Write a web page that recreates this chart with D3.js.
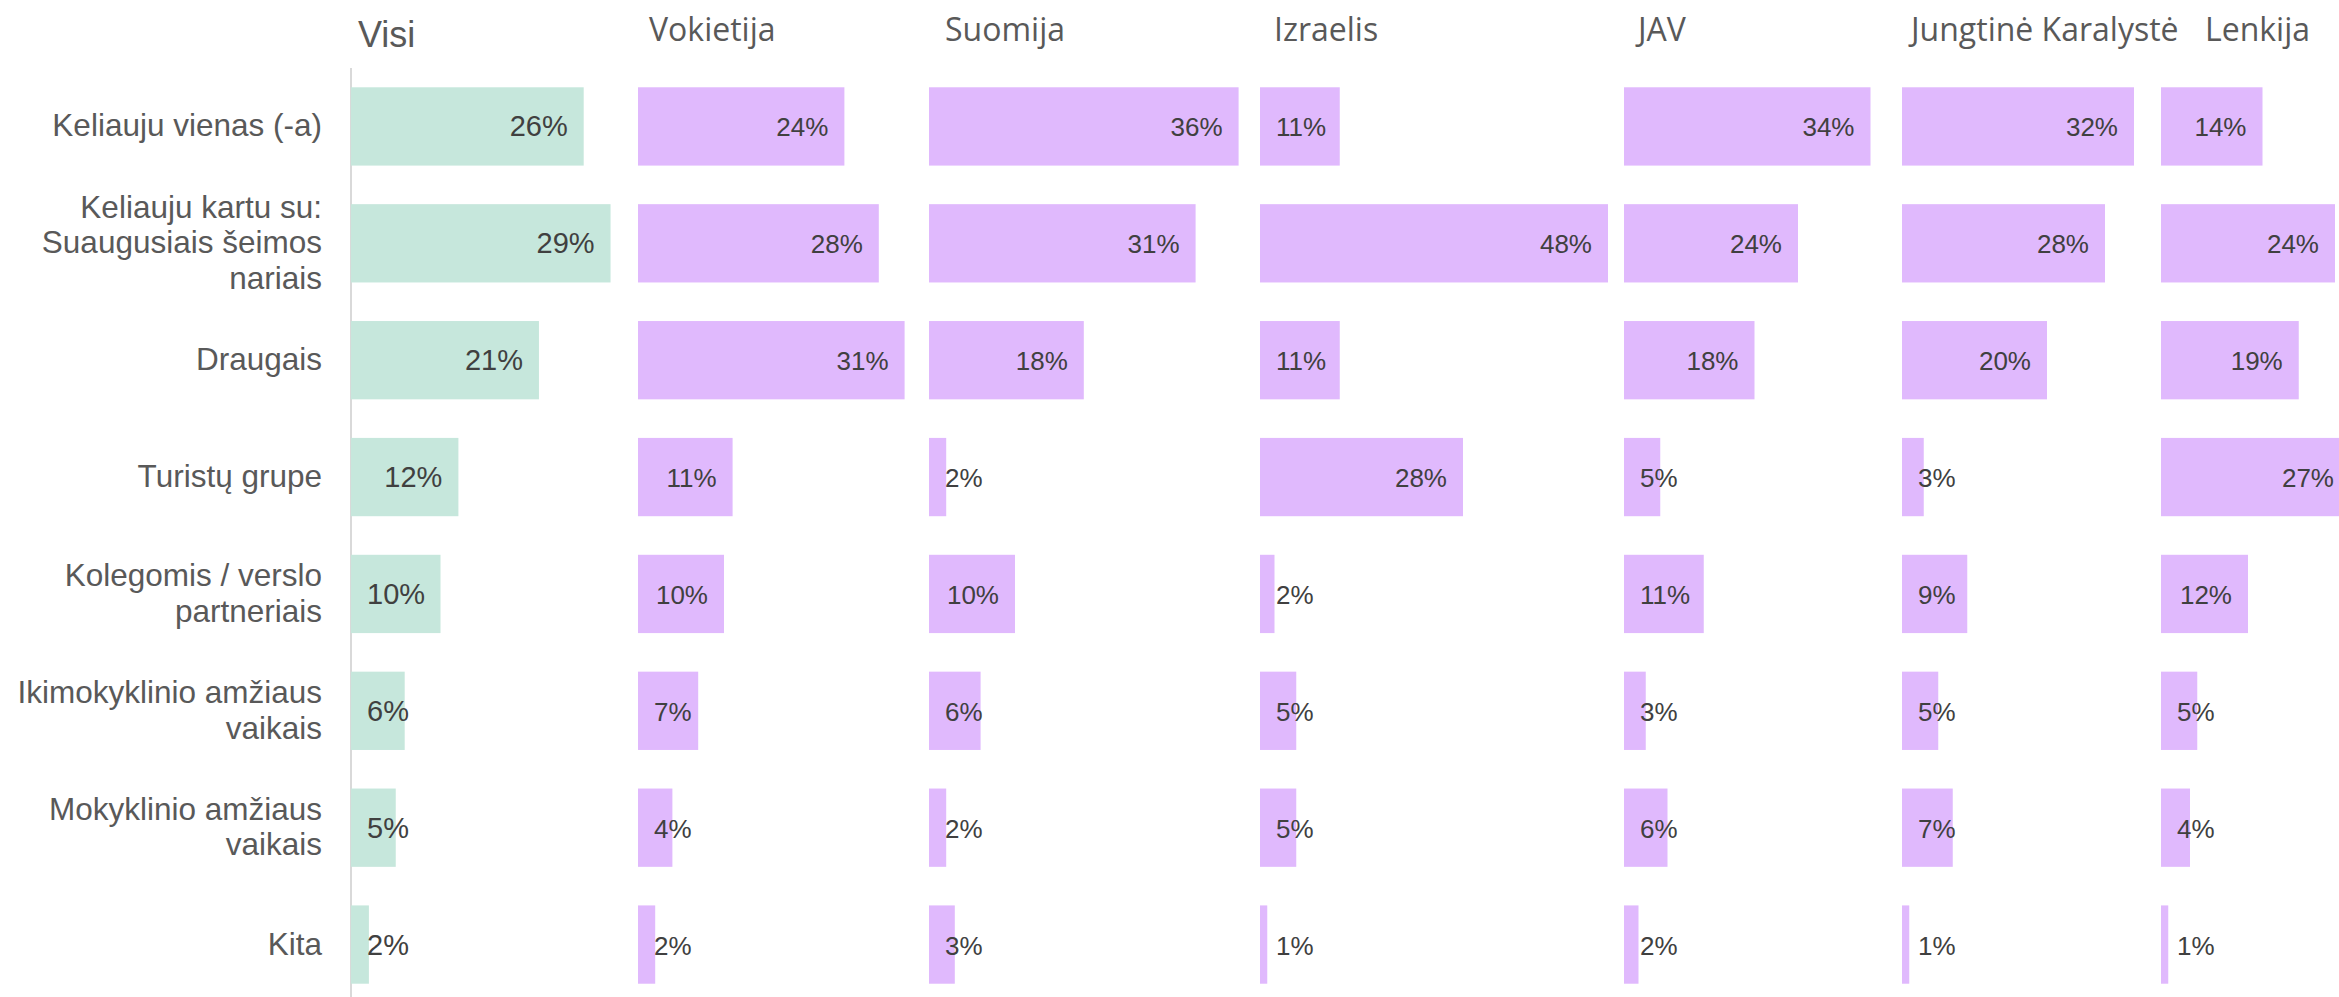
<!DOCTYPE html>
<html>
<head>
<meta charset="utf-8">
<script src="https://cdn.jsdelivr.net/npm/d3@7"></script>
<style>
  body { margin: 0; background: #fff; }
  svg { display: block; }
</style>
</head>
<body>
<svg id="chart" width="2339" height="997"></svg>
<script>
// categories (rows), line breaks as in the original
const categories = [
  ["Keliauju vienas (-a)"],
  ["Keliauju kartu su:", "Suaugusiais šeimos", "nariais"],
  ["Draugais"],
  ["Turistų grupe"],
  ["Kolegomis / verslo", "partneriais"],
  ["Ikimokyklinio amžiaus", "vaikais"],
  ["Mokyklinio amžiaus", "vaikais"],
  ["Kita"]
];

const panelNames = ["Visi", "Vokietija", "Suomija", "Izraelis", "JAV", "Jungtinė Karalystė", "Lenkija"];

// shares in %, one array per panel, same order as categories
const visi      = [26, 29, 21, 12, 10, 6, 5, 2];
const vokietija = [24, 28, 31, 11, 10, 7, 4, 2];
const suomija   = [36, 31, 18, 2, 10, 6, 2, 3];
const izraelis  = [11, 48, 11, 28, 2, 5, 5, 1];
const jav       = [34, 24, 18, 5, 11, 3, 6, 2];
const jk        = [32, 28, 20, 3, 9, 5, 7, 1];
const lenkija   = [14, 24, 19, 27, 12, 5, 4, 1];

const panelValues = [visi, vokietija, suomija, izraelis, jav, jk, lenkija];

// layout of the panels (left edge and pixels per percent)
const panelLeft = [351, 638, 929, 1260, 1624, 1902, 2161];
const pxPerPct  = [8.95, 8.6, 8.6, 7.25, 7.25, 7.25, 7.25];
const headerX   = [358, 649, 945, 1274, 1638, 1911, 2205];

const W = 2339;
const svg = d3.select("#chart");

const y = d3.scaleBand()
  .domain(d3.range(categories.length))
  .range([68, 1003])
  .paddingInner(0.33)
  .paddingOuter(0.165);

// category labels
const catG = svg.append("g");
categories.forEach((lines, i) => {
  const cy = y(i) + y.bandwidth() / 2 + 10;
  const t = catG.append("text")
    .attr("x", 322)
    .attr("y", cy - (lines.length - 1) * 35.5 / 2)
    .attr("text-anchor", "end")
    .style("font-family", "'Liberation Sans', Arial, sans-serif")
    .style("font-size", "31.5px")
    .style("fill", "#595959");
  lines.forEach((l, j) => {
    t.append("tspan")
      .attr("x", 322)
      .attr("dy", j === 0 ? 0 : 35.5)
      .text(l);
  });
});

// axis line
svg.append("line")
  .attr("x1", 351).attr("x2", 351)
  .attr("y1", 68).attr("y2", 997)
  .attr("stroke", "#d9d9d9")
  .attr("stroke-width", 2);

panelNames.forEach((name, p) => {
  const x0 = panelLeft[p];
  const x = d3.scaleLinear().domain([0, 100]).range([x0, x0 + 100 * pxPerPct[p]]);
  const isAll = p === 0;
  const g = svg.append("g");

  g.append("text")
    .attr("x", headerX[p])
    .attr("y", isAll ? 47 : 41)
    .style("font-family", isAll ? "'Liberation Sans', Arial, sans-serif" : "'Open Sans', 'Noto Sans', sans-serif")
    .style("font-size", isAll ? "36px" : "32px")
    .style("fill", "#595959")
    .text(name);

  const vals = panelValues[p];

  g.selectAll("rect")
    .data(vals)
    .enter()
    .append("rect")
    .attr("x", x(0))
    .attr("y", (d, i) => y(i))
    .attr("width", (d) => x(d) - x(0))
    .attr("height", y.bandwidth())
    .attr("fill", isAll ? "#c6e7dc" : "#e0b9fd");

  g.selectAll("text.val")
    .data(vals)
    .enter()
    .append("text")
    .attr("class", "val")
    .attr("y", (d, i) => y(i) + y.bandwidth() / 2 + 10)
    .style("font-family", "'Liberation Sans', Arial, sans-serif")
    .style("font-size", isAll ? "29px" : "26px")
    .style("fill", "#404040")
    .text((d) => d + "%")
    .attr("x", function (d) {
      const w = this.getComputedTextLength();
      const end = Math.min(x(d), W - 5 + 16);
      return Math.max(end - 16 - w, x(0) + 16);
    });
});
</script>
</body>
</html>
